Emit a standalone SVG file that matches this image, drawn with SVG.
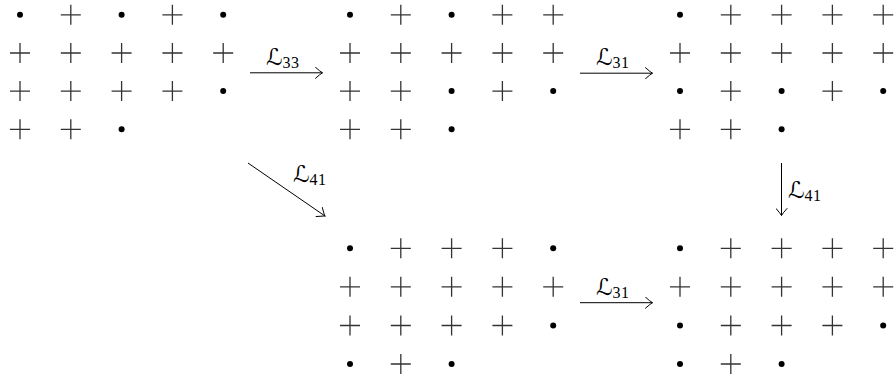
<svg xmlns="http://www.w3.org/2000/svg" xmlns:xlink="http://www.w3.org/1999/xlink" width="895" height="377" viewBox="0 0 895 377">
<style>
.pl{stroke:#333;stroke-width:1.3;fill:none}
.dt{fill:#000}
.ar{stroke:#000;stroke-width:1;fill:none;marker-end:url(#ah)}
.lab{font-family:"DejaVu Serif","DejaVu Sans",serif;font-size:23px;font-style:italic;fill:#000}
.sub{font-family:"Liberation Serif",serif;font-size:16px;font-style:normal;letter-spacing:0.5px}
</style>
<defs>
<path id="p" class="pl" d="M-10 0H10M0-10V10"/>
<circle id="d" class="dt" r="3"/>
<marker id="ah" markerWidth="12" markerHeight="12" refX="0" refY="0" viewBox="-9 -6 11 12" orient="auto" markerUnits="userSpaceOnUse">
<path d="M-7-5.5 Q-2-1 0 0 Q-2 1-7 5.5" stroke="#000" stroke-width="1" fill="none" stroke-linecap="round"/>
</marker>
</defs>
<g id="grid1" transform="translate(20,14.8)">
<use xlink:href="#d" x="0" y="0"/><use xlink:href="#p" x="50.8" y="0"/><use xlink:href="#d" x="101.6" y="0"/><use xlink:href="#p" x="152.4" y="0"/><use xlink:href="#d" x="203.2" y="0"/>
<use xlink:href="#p" x="0" y="38.2"/><use xlink:href="#p" x="50.8" y="38.2"/><use xlink:href="#p" x="101.6" y="38.2"/><use xlink:href="#p" x="152.4" y="38.2"/><use xlink:href="#p" x="203.2" y="38.2"/>
<use xlink:href="#p" x="0" y="76.3"/><use xlink:href="#p" x="50.8" y="76.3"/><use xlink:href="#p" x="101.6" y="76.3"/><use xlink:href="#p" x="152.4" y="76.3"/><use xlink:href="#d" x="203.2" y="76.3"/>
<use xlink:href="#p" x="0" y="114.5"/><use xlink:href="#p" x="50.8" y="114.5"/><use xlink:href="#d" x="101.6" y="114.5"/>
</g>
<g id="grid2" transform="translate(350,14.8)">
<use xlink:href="#d" x="0" y="0"/><use xlink:href="#p" x="50.8" y="0"/><use xlink:href="#d" x="101.6" y="0"/><use xlink:href="#p" x="152.4" y="0"/><use xlink:href="#p" x="203.2" y="0"/>
<use xlink:href="#p" x="0" y="38.2"/><use xlink:href="#p" x="50.8" y="38.2"/><use xlink:href="#p" x="101.6" y="38.2"/><use xlink:href="#p" x="152.4" y="38.2"/><use xlink:href="#p" x="203.2" y="38.2"/>
<use xlink:href="#p" x="0" y="76.3"/><use xlink:href="#p" x="50.8" y="76.3"/><use xlink:href="#d" x="101.6" y="76.3"/><use xlink:href="#p" x="152.4" y="76.3"/><use xlink:href="#d" x="203.2" y="76.3"/>
<use xlink:href="#p" x="0" y="114.5"/><use xlink:href="#p" x="50.8" y="114.5"/><use xlink:href="#d" x="101.6" y="114.5"/>
</g>
<g id="grid3" transform="translate(680,14.8)">
<use xlink:href="#d" x="0" y="0"/><use xlink:href="#p" x="50.8" y="0"/><use xlink:href="#p" x="101.6" y="0"/><use xlink:href="#p" x="152.4" y="0"/><use xlink:href="#p" x="203.2" y="0"/>
<use xlink:href="#p" x="0" y="38.2"/><use xlink:href="#p" x="50.8" y="38.2"/><use xlink:href="#p" x="101.6" y="38.2"/><use xlink:href="#p" x="152.4" y="38.2"/><use xlink:href="#p" x="203.2" y="38.2"/>
<use xlink:href="#d" x="0" y="76.3"/><use xlink:href="#p" x="50.8" y="76.3"/><use xlink:href="#d" x="101.6" y="76.3"/><use xlink:href="#p" x="152.4" y="76.3"/><use xlink:href="#d" x="203.2" y="76.3"/>
<use xlink:href="#p" x="0" y="114.5"/><use xlink:href="#p" x="50.8" y="114.5"/><use xlink:href="#d" x="101.6" y="114.5"/>
</g>
<g id="grid4" transform="translate(350,248.3)">
<use xlink:href="#d" x="0" y="0"/><use xlink:href="#p" x="50.8" y="0"/><use xlink:href="#p" x="101.6" y="0"/><use xlink:href="#p" x="152.4" y="0"/><use xlink:href="#d" x="203.2" y="0"/>
<use xlink:href="#p" x="0" y="38.5"/><use xlink:href="#p" x="50.8" y="38.5"/><use xlink:href="#p" x="101.6" y="38.5"/><use xlink:href="#p" x="152.4" y="38.5"/><use xlink:href="#p" x="203.2" y="38.5"/>
<use xlink:href="#p" x="0" y="77.2"/><use xlink:href="#p" x="50.8" y="77.2"/><use xlink:href="#p" x="101.6" y="77.2"/><use xlink:href="#p" x="152.4" y="77.2"/><use xlink:href="#d" x="203.2" y="77.2"/>
<use xlink:href="#d" x="0" y="115.7"/><use xlink:href="#p" x="50.8" y="115.7"/><use xlink:href="#d" x="101.6" y="115.7"/>
</g>
<g id="grid5" transform="translate(680,248.3)">
<use xlink:href="#d" x="0" y="0"/><use xlink:href="#p" x="50.8" y="0"/><use xlink:href="#p" x="101.6" y="0"/><use xlink:href="#p" x="152.4" y="0"/><use xlink:href="#p" x="203.2" y="0"/>
<use xlink:href="#p" x="0" y="38.5"/><use xlink:href="#p" x="50.8" y="38.5"/><use xlink:href="#p" x="101.6" y="38.5"/><use xlink:href="#p" x="152.4" y="38.5"/><use xlink:href="#p" x="203.2" y="38.5"/>
<use xlink:href="#d" x="0" y="77.2"/><use xlink:href="#p" x="50.8" y="77.2"/><use xlink:href="#p" x="101.6" y="77.2"/><use xlink:href="#p" x="152.4" y="77.2"/><use xlink:href="#d" x="203.2" y="77.2"/>
<use xlink:href="#d" x="0" y="115.7"/><use xlink:href="#p" x="50.8" y="115.7"/><use xlink:href="#d" x="101.6" y="115.7"/>
</g>
<g id="connectors">
<line class="ar" x1="250" y1="72.8" x2="322.5" y2="72.8"/>
<line class="ar" x1="580" y1="73.2" x2="652.5" y2="73.2"/>
<line class="ar" x1="248" y1="163" x2="325" y2="216"/>
<line class="ar" x1="781.5" y1="163" x2="781.5" y2="215.5"/>
<line class="ar" x1="580" y1="302.7" x2="652.5" y2="302.7"/>
<text class="lab" x="266" y="65">ℒ<tspan class="sub" dy="2.5">33</tspan></text>
<text class="lab" x="596" y="65">ℒ<tspan class="sub" dy="2.5">31</tspan></text>
<text class="lab" x="293" y="182">ℒ<tspan class="sub" dy="2.5">41</tspan></text>
<text class="lab" x="788" y="198">ℒ<tspan class="sub" dy="2.5">41</tspan></text>
<text class="lab" x="596" y="295">ℒ<tspan class="sub" dy="2.5">31</tspan></text>
</g>
</svg>
